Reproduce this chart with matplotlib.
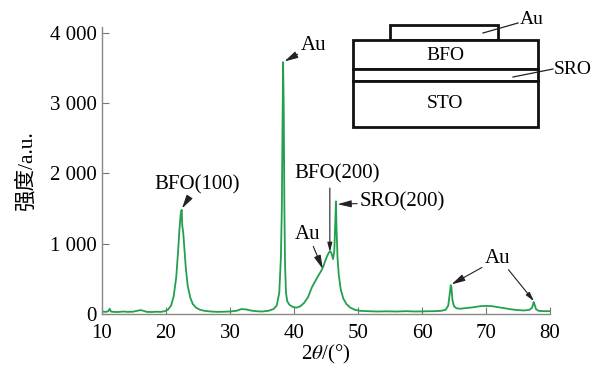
import matplotlib
matplotlib.use("Agg")
import matplotlib.pyplot as plt
from matplotlib.patches import Rectangle

plt.rcParams["font.family"] = ["Liberation Serif", "Noto Sans CJK SC"]
plt.rcParams["mathtext.fontset"] = "stix"
plt.rcParams["axes.unicode_minus"] = False

# XRD scan
two_theta = [10.0, 10.6, 11.0, 11.2, 11.4, 11.8, 12.5, 13.3, 14.0, 14.8, 15.5, 16.0,
             16.5, 17.0, 17.8, 18.5, 19.2, 19.8, 20.3, 20.8, 21.2, 21.6, 21.9, 22.1,
             22.3, 22.45, 22.55, 22.7, 22.9, 23.1, 23.4, 23.8, 24.2, 24.7, 25.3, 26.0,
             27.0, 28.0, 29.0, 30.0, 31.0, 31.8, 32.5, 33.2, 34.0, 35.0, 36.0, 36.8,
             37.3, 37.7, 37.95, 38.1, 38.2, 38.3, 38.4, 38.5, 38.6, 38.75, 38.95, 39.3,
             39.8, 40.4, 41.0, 41.6, 42.2, 42.8, 43.4, 43.9, 44.3, 44.6, 44.9, 45.2,
             45.5, 45.7, 45.9, 46.1, 46.3, 46.45, 46.55, 46.65, 46.8, 47.0, 47.3, 47.7,
             48.2, 48.8, 49.5, 50.3, 51.5, 53.0, 54.5, 56.0, 57.5, 59.0, 60.5, 62.0,
             63.0, 63.7, 64.1, 64.35, 64.5, 64.6, 64.75, 65.0, 65.4, 66.0, 67.0, 68.0,
             69.0, 70.0, 71.0, 72.0, 73.0, 74.0, 75.0, 76.0, 76.8, 77.2, 77.45, 77.6,
             77.8, 78.2, 79.0, 80.0]
intensity = [35, 30, 40, 75, 35, 30, 28, 35, 30, 32, 45, 55,
             45, 30, 28, 32, 30, 40, 60, 120, 250, 520, 900, 1200,
             1420, 1480, 1250, 1150, 900, 650, 400, 230, 140, 90, 60, 45,
             35, 30, 32, 35, 45, 70, 65, 50, 40, 35, 45, 70,
             120, 300, 800, 1500, 2600, 3580, 2900, 1500, 700, 300, 180, 130,
             100, 90, 110, 160, 240, 380, 480, 560, 620, 680, 760, 830,
             880, 890, 850, 780, 900, 1300, 1600, 1200, 800, 550, 350, 220,
             140, 90, 60, 45, 40, 35, 38, 35, 40, 35, 38, 40,
             45, 60, 120, 300, 410, 380, 200, 110, 80, 75, 85, 95,
             110, 115, 110, 95, 80, 65, 55, 50, 60, 90, 170, 130,
             70, 45, 40, 40]

x_ticks = [10, 20, 30, 40, 50, 60, 70, 80]
y_ticks = [0, 1000, 2000, 3000, 4000]
y_tick_labels = ["0", "1 000", "2 000", "3 000", "4 000"]

fig = plt.figure(figsize=(6.11, 3.70), dpi=100)
ax = fig.add_axes([0.1669, 0.1514, 0.7333, 0.7757])
ax.plot(two_theta, intensity, color="#22a04e", lw=1.3)

ax.set_xlim(10, 80)
ax.set_ylim(0, 4080)
ax.set_xticks(x_ticks)
ax.set_yticks(y_ticks)
ax.set_yticklabels(y_tick_labels)
ax.tick_params(direction="in", length=5, width=0.8, color="#777777",
               labelsize=15, pad=4)
ax.tick_params(axis="x", pad=7)
for s in ["top", "right"]:
    ax.spines[s].set_visible(False)
for s in ["left", "bottom"]:
    ax.spines[s].set_color("#888888")
    ax.spines[s].set_linewidth(1.0)

ax.set_xlabel(r"2$\theta$/(°)", fontsize=15, labelpad=0)
ax.set_ylabel("强度/a.u.", fontsize=15.5, labelpad=9)

arr = dict(arrowstyle="-|>,head_length=0.55,head_width=0.14", color="#222222",
           lw=0.8, shrinkA=0, shrinkB=0)
fs = 15
ax.annotate("Au", xy=(38.5, 3590), xytext=(41.0, 3680), fontsize=fs,
            ha="left", va="bottom", arrowprops=arr)
ax.annotate("BFO(100)", xy=(22.5, 1500), xytext=(24.9, 1700), fontsize=fs,
            ha="center", va="bottom", arrowprops=arr)
ax.text(46.7, 1850, "BFO(200)", fontsize=fs, ha="center", va="bottom")
ax.annotate("", xy=(45.6, 880), xytext=(45.6, 1790), arrowprops=arr)
ax.annotate("SRO(200)", xy=(46.8, 1560), xytext=(50.3, 1590), fontsize=fs,
            ha="left", va="center", arrowprops=arr)
ax.annotate("Au", xy=(44.5, 640), xytext=(42.2, 1000), fontsize=fs,
            ha="center", va="bottom", arrowprops=arr)
ax.annotate("Au", xy=(64.6, 420), xytext=(71.8, 650), fontsize=fs,
            ha="center", va="bottom", arrowprops=arr)
ax.annotate("", xy=(77.5, 180), xytext=(73.5, 630), arrowprops=arr)

# layer structure sketch, drawn in figure pixels
ov = fig.add_axes([0, 0, 1, 1])
ov.set_xlim(0, 611)
ov.set_ylim(370, 0)
ov.axis("off")
ov.patch.set_alpha(0)
lw = 2.0
ov.add_patch(Rectangle((390, 25), 108, 15, fill=False, lw=lw, ec="#111111"))
ov.add_patch(Rectangle((353, 40), 185, 29, fc="white", lw=lw, ec="#111111"))
ov.add_patch(Rectangle((353, 69), 185, 12, fc="white", lw=lw, ec="#111111"))
ov.add_patch(Rectangle((353, 81), 185, 46, fc="white", lw=lw, ec="#111111"))
ov.text(445, 56, "BFO", fontsize=14, ha="center", va="center")
ov.text(445, 104, "STO", fontsize=14, ha="center", va="center")
ov.text(520, 20, "Au", fontsize=14, ha="left", va="center")
ov.plot([518, 483], [23, 33], color="#222222", lw=0.9)
ov.text(554, 70, "SRO", fontsize=14, ha="left", va="center")
ov.plot([553, 513], [69, 77], color="#222222", lw=0.9)

fig.savefig("out.png", dpi=100)
